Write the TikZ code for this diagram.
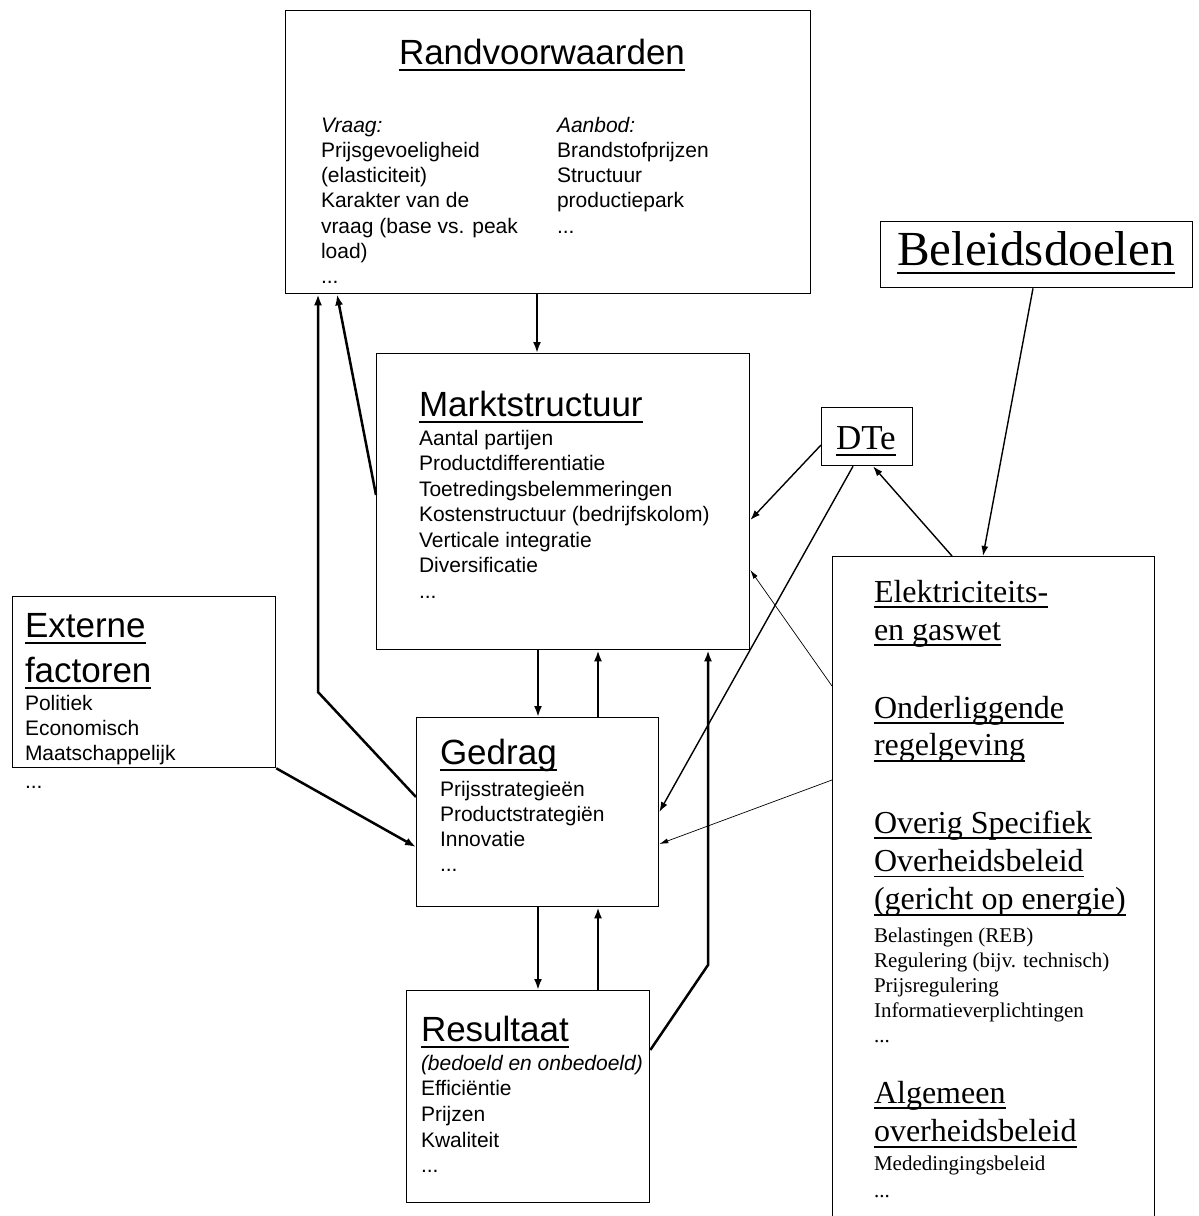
\documentclass[tikz,border=0pt]{standalone}
\usepackage{fontspec}
\setmainfont{Liberation Sans}
\newfontfamily\serifx{Liberation Serif}
\usetikzlibrary{arrows.meta}
\newcommand\fsz[2]{\fontsize{#1}{#2}\selectfont}
\newcommand\ulx[1]{\setbox0\hbox{#1}\rlap{\rule[-0.19em]{\wd0}{0.05em}}\box0}
\newcommand\blk[2]{\vtop{\baselineskip=#1pt\lineskiplimit=-100pt\lineskip=0pt\halign{##\hfil\cr#2\crcr}}}
\tikzset{
  box/.style={draw, line width=1.3pt, inner sep=0pt, anchor=north west},
  txt/.style={anchor=base west, inner sep=0pt, outer sep=0pt},
  thk/.style={line width=2.5pt, -{Latex[length=11pt,width=8pt]}},
  med/.style={line width=1.4pt, -{Latex[length=10pt,width=7pt]}},
  thn/.style={line width=0.7pt, -{Latex[length=9pt,width=5pt]}},
}
\begin{document}
\begin{tikzpicture}[x=1pt,y=-1pt]
\useasboundingbox (0,0) rectangle (1199,1216);
\fill[white] (0,0) rectangle (1199,1216);
\clip (0,0) rectangle (1199,1216);

% boxes
\node[box, minimum width=525pt, minimum height=283pt] (rv) at (285,10) {};
\node[box, minimum width=373pt, minimum height=296pt] (ms) at (376,353) {};
\node[box, minimum width=263pt, minimum height=171pt] (ext) at (12,596) {};
\node[box, minimum width=242pt, minimum height=189pt] (ged) at (416,717) {};
\node[box, minimum width=243pt, minimum height=212pt] (res) at (406,990) {};
\node[box, minimum width=312pt, minimum height=66pt] (bd) at (880,221) {};
\node[box, minimum width=91pt, minimum height=58pt] (dte) at (821,407) {};
\node[box, minimum width=322pt, minimum height=700pt] (bel) at (832,556) {};

% Randvoorwaarden
\node[txt, font=\fsz{35}{42}] (rvt) at (399,64) {\ulx{Randvoorwaarden}};
\node[txt, font=\fsz{21}{25}] (rvq) at (321,132) {\blk{25.3}{\textit{Vraag:}\cr Prijsgevoeligheid\cr (elasticiteit)\cr Karakter van de\cr vraag (base vs. peak\cr load)\cr ...}};
\node[txt, font=\fsz{21}{25}] (rva) at (557,132) {\blk{25.3}{\textit{Aanbod:}\cr Brandstofprijzen\cr Structuur\cr productiepark\cr ...}};

% Marktstructuur
\node[txt, font=\fsz{35}{42}] (mst) at (419,416) {\ulx{Marktstructuur}};
\node[txt, font=\fsz{21}{25}] (msb) at (419,445) {\blk{25.5}{Aantal partijen\cr Productdifferentiatie\cr Toetredingsbelemmeringen\cr Kostenstructuur (bedrijfskolom)\cr Verticale integratie\cr Diversificatie\cr ...}};

% Externe factoren
\node[txt, font=\fsz{35}{42}] (extt) at (25,637) {\blk{45}{\ulx{Externe}\cr \ulx{factoren}}};
\node[txt, font=\fsz{21}{25}] (extb) at (25,710) {\blk{25}{Politiek\cr Economisch\cr Maatschappelijk}};
\node[txt, font=\fsz{21}{25}] (extd) at (25,788) {...};

% Gedrag
\node[txt, font=\fsz{35}{42}] (gedt) at (440,764) {\ulx{Gedrag}};
\node[txt, font=\fsz{21}{25}] (gedb) at (440,796) {\blk{25.3}{Prijsstrategieën\cr Productstrategiën\cr Innovatie\cr ...}};

% Resultaat
\node[txt, font=\fsz{35}{42}] (rest) at (421,1041) {\ulx{Resultaat}};
\node[txt, font=\fsz{21}{25}] (resb) at (421,1070) {\blk{25.7}{\textit{(bedoeld en onbedoeld)}\cr Efficiëntie\cr Prijzen\cr Kwaliteit\cr ...}};

% Beleidsdoelen, DTe
\node[txt, font=\serifx\fsz{49}{52}] (bdt) at (897,265) {\ulx{Beleidsdoelen}};
\node[txt, font=\serifx\fsz{35}{40}] (dtet) at (836,449) {\ulx{DTe}};

% beleid box text
\node[txt, font=\serifx\fsz{32}{38}] (b1) at (874,602) {\blk{38}{\ulx{Elektriciteits-}\cr \ulx{en gaswet}}};
\node[txt, font=\serifx\fsz{32}{38}] (b2) at (874,718) {\blk{37.5}{\ulx{Onderliggende}\cr \ulx{regelgeving}}};
\node[txt, font=\serifx\fsz{32}{38}] (b3) at (874,833) {\blk{38.3}{\ulx{Overig Specifiek}\cr \ulx{Overheidsbeleid}\cr \ulx{(gericht op energie)}}};
\node[txt, font=\serifx\fsz{21}{25}] (b3b) at (874,942) {\blk{25.2}{Belastingen (REB)\cr Regulering (bijv. technisch)\cr Prijsregulering\cr Informatieverplichtingen\cr ...}};
\node[txt, font=\serifx\fsz{32}{38}] (b4) at (874,1103) {\blk{38.5}{\ulx{Algemeen}\cr \ulx{overheidsbeleid}}};
\node[txt, font=\serifx\fsz{21}{25}] (b4b) at (874,1170) {\blk{27}{Mededingingsbeleid\cr ...}};

% helper coordinates
\coordinate (k1) at (318,692);
\coordinate (k2) at (708,965);

% connectors
\draw[thk] ([xshift=161pt]ms.north west |- rv.south) -- ([xshift=161pt]ms.north west);
\draw[thk] ([xshift=122pt]ged.north west |- ms.south) -- ([xshift=122pt]ged.north west);
\draw[thk] ([xshift=182pt]ged.north west) -- ([xshift=182pt]ged.north west |- ms.south);
\draw[thk] ([xshift=122pt]ged.south west) -- ([xshift=122pt]ged.south west |- res.north);
\draw[thk] ([xshift=182pt]ged.south west |- res.north) -- ([xshift=182pt]ged.south west);
\draw[thk] ([yshift=-80pt]ged.north west) -- (k1) -- (k1 |- rv.south);
\draw[thk] ([yshift=-142pt]ms.north west) -- ([xshift=52pt]rv.south west);
\draw[thk] (ext.south east) -- ([yshift=-130pt]ged.north west);
\draw[thk] ([yshift=-60pt]res.north east) -- (k2) -- (k2 |- ms.south);
\draw[med] ([yshift=-38pt]dte.north west) -- ([yshift=-167pt]ms.north east);
\draw[med] ([xshift=32pt]dte.south west) -- ([yshift=-95pt]ged.north east);
\draw[med] ([xshift=120pt]bel.north west) -- ([xshift=52pt]dte.south west);
\draw[med] ([xshift=153pt]bd.south west) -- ([xshift=151pt]bel.north west);
\draw[thn] ([yshift=-130pt]bel.north west) -- ([yshift=-217pt]ms.north east);
\draw[thn] ([yshift=-224pt]bel.north west) -- ([yshift=-127pt]ged.north east);
\end{tikzpicture}
\end{document}
